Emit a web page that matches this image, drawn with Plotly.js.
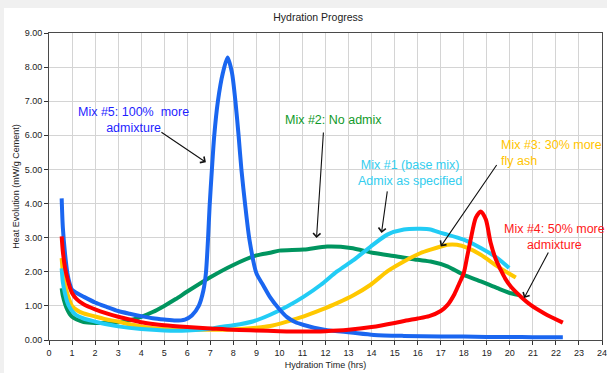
<!DOCTYPE html>
<html>
<head>
<meta charset="utf-8">
<script src="https://cdn.plot.ly/plotly-3.0.1.min.js"></script>
<style>
  html, body { margin: 0; padding: 0; background: #f0f0f0; }
  #chart { position: absolute; left: 4px; top: 8px; width: 603px; height: 365px; background: #fff; }
</style>
</head>
<body>
<div id="chart"></div>
<script>
// Mix #5: 100% more admixture (blue)
const mix5X = [0.55,0.6,0.7,0.8,0.9,1.0,1.2,1.5,2.0,2.5,3.0,3.5,4.0,4.5,5.0,5.5,5.9,6.2,6.5,6.7,6.81,6.9,6.97,7.07,7.17,7.33,7.55,7.75,7.94,8.09,8.23,8.35,8.52,8.7,9.0,9.3,9.6,10.0,10.33,10.7,11.06,11.5,12.07,13.1,14.1,15.4,17.0,18.0,19.0,20.0,21.0,22.3];
const mix5Y = [4.15,3.3,2.5,1.95,1.65,1.47,1.38,1.27,1.1,0.97,0.85,0.77,0.7,0.64,0.6,0.57,0.6,0.72,1.0,1.45,1.96,2.94,3.92,5.0,5.98,7.0,7.84,8.28,7.84,7.0,5.98,5.0,3.92,2.94,1.96,1.6,1.25,0.9,0.67,0.52,0.44,0.36,0.29,0.22,0.15,0.12,0.1,0.1,0.09,0.09,0.08,0.08];

// Mix #4: 50% more admixture (red)
const mix4X = [0.55,0.6,0.7,0.8,0.9,1.0,1.2,1.5,2.0,2.5,3.0,3.5,4.0,4.5,5.0,6.0,7.0,8.0,9.0,10.0,11.0,12.0,13.0,14.0,15.0,15.5,16.0,16.5,17.0,17.3,17.6,17.8,18.0,18.15,18.3,18.52,18.74,18.96,19.17,19.4,19.6,19.8,20.04,20.48,20.9,21.5,22.3];
const mix4Y = [3.04,2.6,2.1,1.8,1.55,1.38,1.2,1.05,0.9,0.78,0.68,0.6,0.52,0.47,0.43,0.38,0.34,0.3,0.28,0.26,0.25,0.26,0.3,0.38,0.5,0.57,0.63,0.7,0.85,1.03,1.35,1.65,1.96,2.45,2.94,3.58,3.77,3.53,2.84,2.35,2.06,1.8,1.57,1.27,1.03,0.78,0.51];

// Mix #3: 30% more fly ash (yellow)
const mix3X = [0.55,0.6,0.7,0.8,0.9,1.0,1.2,1.5,2.0,2.5,3.0,3.5,4.0,5.0,6.0,7.0,8.0,9.0,9.6,10.33,11.06,11.8,12.5,13.23,13.96,14.68,15.4,16.13,16.56,17.0,17.29,17.7,18.16,18.74,19.46,20.26];
const mix3Y = [2.4,2.0,1.6,1.35,1.15,1.0,0.88,0.78,0.69,0.6,0.54,0.46,0.4,0.32,0.3,0.3,0.31,0.36,0.41,0.54,0.69,0.88,1.08,1.32,1.62,2.01,2.3,2.55,2.65,2.74,2.79,2.79,2.7,2.5,2.16,1.83];

// Mix #1 (base mix): admix as specified (cyan)
const mix1X = [0.55,0.6,0.7,0.8,0.9,1.0,1.2,1.5,2.0,2.5,3.0,4.0,5.0,6.0,7.0,7.43,8.0,8.88,9.6,10.33,11.06,11.8,12.5,13.23,13.96,14.68,15.4,16.13,16.56,17.0,17.29,18.0,18.74,19.46,19.97];
const mix1Y = [2.1,1.7,1.35,1.1,0.95,0.85,0.72,0.63,0.54,0.46,0.4,0.32,0.28,0.28,0.33,0.38,0.43,0.55,0.74,0.98,1.27,1.62,2.01,2.35,2.74,3.09,3.24,3.26,3.24,3.14,3.09,2.94,2.7,2.4,2.11];

// Mix #2: no admix (green)
const mix2X = [0.55,0.6,0.7,0.8,0.9,1.0,1.2,1.5,2.0,2.5,3.0,3.5,4.0,4.5,5.0,5.5,6.0,7.0,8.0,9.0,9.6,10.0,11.06,12.07,13.1,14.1,15.1,16.0,16.56,17.29,18.0,18.74,19.46,20.04,20.4];
const mix2Y = [1.52,1.3,1.05,0.88,0.76,0.68,0.6,0.53,0.5,0.5,0.52,0.58,0.68,0.82,1.0,1.2,1.42,1.84,2.2,2.48,2.56,2.62,2.65,2.74,2.7,2.55,2.45,2.35,2.3,2.16,1.91,1.72,1.52,1.37,1.32];

const xTicks = [0,1,2,3,4,5,6,7,8,9,10,11,12,13,14,15,16,17,18,19,20,21,22,23,24];
const yTicks = [0,1,2,3,4,5,6,7,8,9];

const FONT = 'Liberation Sans, Arial, sans-serif';

function series(name, x, y, color) {
  return { type: 'scatter', mode: 'lines', name: name, x: x, y: y,
    line: { color: color, width: 4, shape: 'spline', smoothing: 0.7 }, hoverinfo: 'x+y' };
}

const data = [
  series('Mix #2', mix2X, mix2Y, '#00955f'),
  series('Mix #3', mix3X, mix3Y, '#ffc800'),
  series('Mix #1', mix1X, mix1Y, '#22ccf5'),
  series('Mix #5', mix5X, mix5Y, '#1a66f0'),
  series('Mix #4', mix4X, mix4Y, '#ff0000')
];

function label(text, x, y, color, anchor) {
  return { text: text, x: x, y: y, xref: 'x', yref: 'y', showarrow: false,
    xanchor: anchor || 'center', yanchor: 'middle', align: anchor || 'center',
    font: { family: FONT, size: 12.5, color: color } };
}
function arrow(x, y, ax, ay) {
  return { text: '', x: x, y: y, xref: 'x', yref: 'y', ax: ax, ay: ay,
    showarrow: true, arrowhead: 4, arrowsize: 1.3, arrowwidth: 1.1, arrowcolor: '#111' };
}

const annotations = [
  label('Mix #5: 100%  more<br>admixture', 3.67, 6.44, '#1f1fff'),
  label('Mix #2: No admix', 12.35, 6.44, '#119a2a'),
  label('Mix #1 (base mix)<br>Admix as specified', 15.65, 4.91, '#33cdee'),
  label('Mix #3: 30% more<br>fly ash', 19.52, 5.49, '#ffc400', 'left'),
  label('Mix #4: 50% more<br>admixture', 21.93, 3.02, '#ff1a1a'),
  arrow(6.81, 5.21, -46, -31),
  arrow(11.61, 2.99, 7, -107),
  arrow(14.43, 3.14, 6, -43),
  arrow(17.0, 2.74, 57, -83),
  arrow(20.62, 1.23, 25, -47)
];

const axisCommon = {
  showgrid: true, gridcolor: '#d4d4d4', gridwidth: 1,
  showline: true, linecolor: '#4a4a4a', linewidth: 1, mirror: true,
  ticks: 'outside', ticklen: 4, tickcolor: '#333', tickwidth: 1,
  zeroline: false, fixedrange: true, ticklabeloverflow: 'allow',
  tickfont: { family: FONT, size: 9, color: '#222' }
};

const layout = {
  width: 603, height: 365,
  margin: { l: 45, r: 5, t: 25, b: 33, pad: 0 },
  paper_bgcolor: '#ffffff', plot_bgcolor: '#ffffff',
  showlegend: false,
  title: { text: 'Hydration Progress', font: { family: FONT, size: 10.5, color: '#222' },
    xref: 'container', yref: 'container', x: 0.521, y: 0.975, xanchor: 'center', yanchor: 'middle' },
  xaxis: Object.assign({}, axisCommon, {
    range: [0, 24], tickmode: 'array', tickvals: xTicks, ticktext: xTicks.map(String),
    title: { text: 'Hydration Time (hrs)', font: { family: FONT, size: 9, color: '#222' }, standoff: 4 }
  }),
  yaxis: Object.assign({}, axisCommon, {
    range: [0, 9], tickmode: 'array', tickvals: yTicks, ticktext: yTicks.map(v => v.toFixed(2)),
    title: { text: 'Heat Evolution (mW/g Cement)', font: { family: FONT, size: 9, color: '#222' }, standoff: 3 }
  }),
  annotations: annotations
};

Plotly.newPlot('chart', data, layout, { displayModeBar: false, staticPlot: true });
</script>
</body>
</html>
